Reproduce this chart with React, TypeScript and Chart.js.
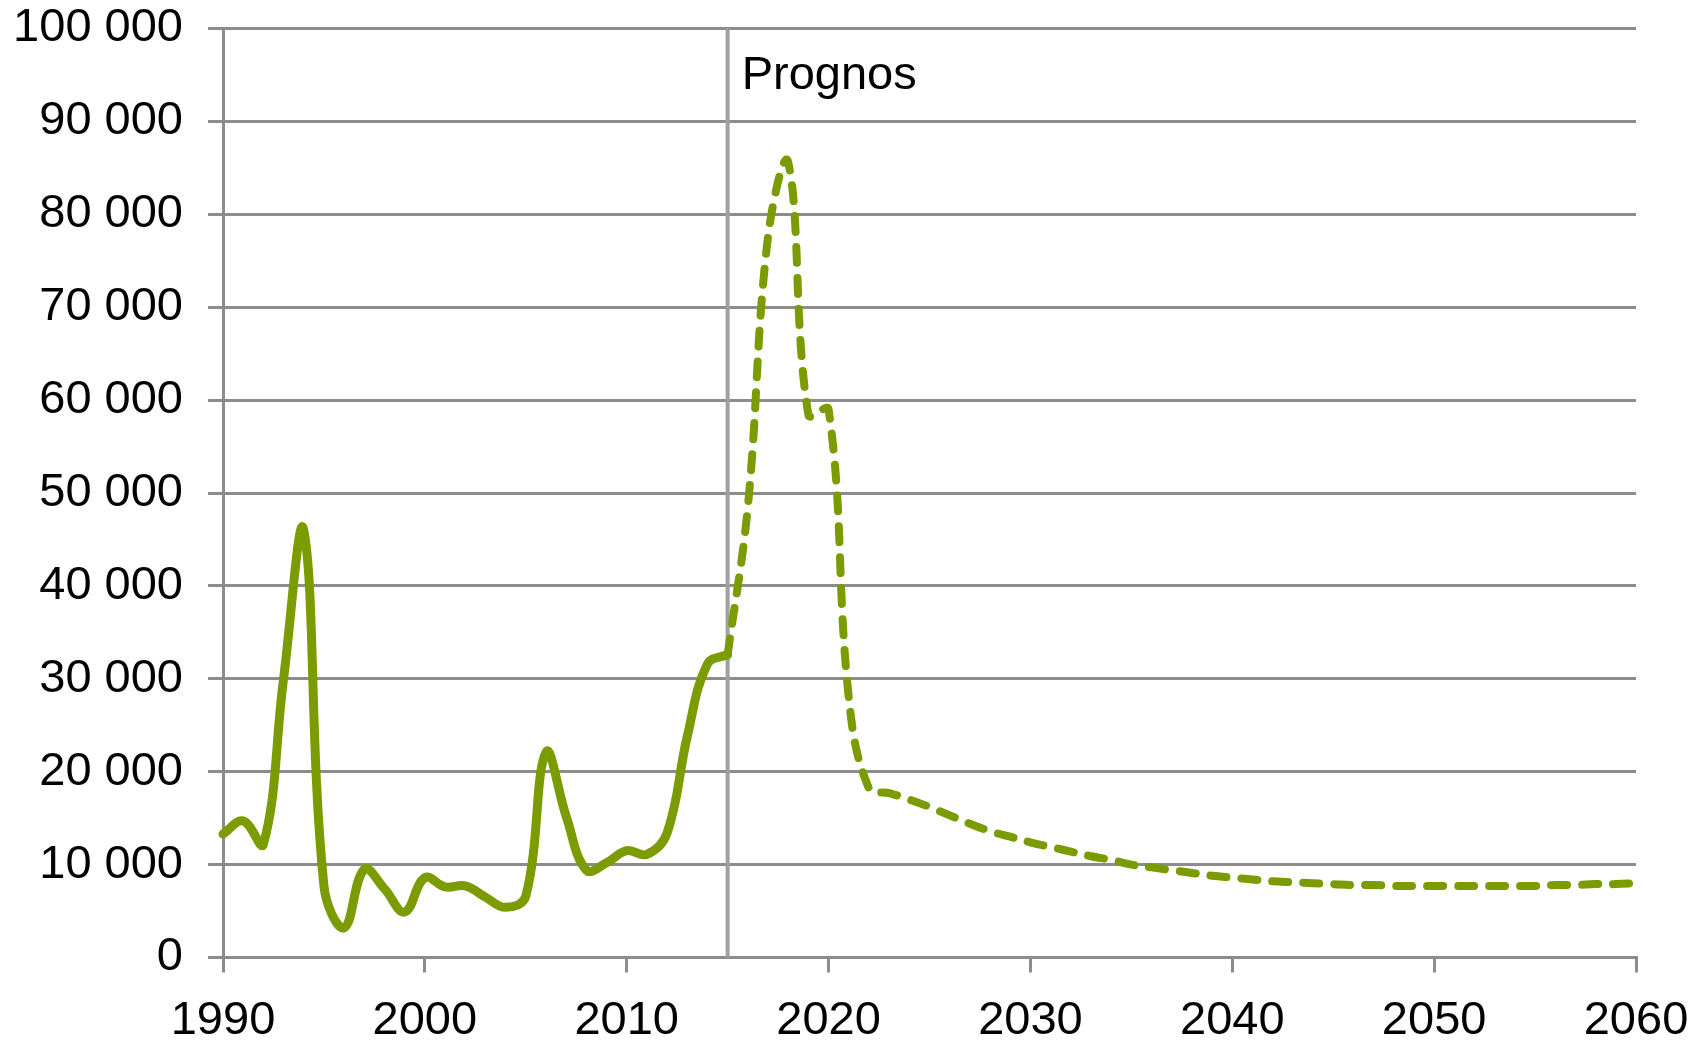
import React, { useEffect, useRef } from "react";
import { Chart, registerables } from "chart.js";

Chart.register(...registerables);

const histYears = [1990, 1991, 1992, 1993, 1994, 1995, 1996, 1997, 1998, 1999, 2000, 2001, 2002, 2003, 2004, 2005, 2006, 2007, 2008, 2009, 2010, 2011, 2012, 2013, 2014, 2015];
const histValues = [13300, 14700, 12200, 30000, 46000, 7700, 3200, 9500, 7400, 4900, 8600, 7600, 7700, 6500, 5400, 6600, 22100, 15200, 9400, 10200, 11500, 11100, 13400, 23800, 31600, 32600];

const progYears = [2015, 2016, 2017, 2018, 2019, 2020, 2021, 2022, 2023, 2024, 2025, 2026, 2027, 2028, 2029, 2030, 2031, 2032, 2033, 2034, 2035, 2036, 2037, 2038, 2039, 2040, 2041, 2042, 2043, 2044, 2045, 2046, 2047, 2048, 2049, 2050, 2051, 2052, 2053, 2054, 2055, 2056, 2057, 2058, 2059, 2060];
const progValues = [32600, 48500, 77600, 85600, 58400, 59000, 28000, 18200, 17700, 17000, 16200, 15300, 14400, 13600, 13000, 12400, 11900, 11400, 10900, 10500, 10000, 9700, 9400, 9100, 8800, 8600, 8400, 8200, 8100, 8000, 7900, 7800, 7800, 7700, 7700, 7700, 7700, 7700, 7700, 7700, 7700, 7800, 7800, 7900, 7900, 8000];

const forecastStart = 2015;
const forecastLabel = "Prognos";

const GREEN = "#7a9c00";
const GRID = "#8c8c8c";
const FONT = "'Liberation Sans', Arial, sans-serif";

const fmt = (v: number) => String(v).replace(/\B(?=(\d{3})+(?!\d))/g, " ");

export default function App() {
  const ref = useRef<HTMLCanvasElement | null>(null);

  useEffect(() => {
    document.body.style.margin = "0";
    const canvas = ref.current;
    if (!canvas) return;

    const prognosPlugin = {
      id: "prognos",
      beforeDatasetsDraw(chart: any) {
        const { ctx, chartArea, scales } = chart;
        const x = scales.x.getPixelForValue(forecastStart);
        ctx.save();
        ctx.strokeStyle = "#a0a0a0";
        ctx.lineWidth = 4;
        ctx.beginPath();
        ctx.moveTo(x, chartArea.top);
        ctx.lineTo(x, chartArea.bottom);
        ctx.stroke();
        ctx.fillStyle = "#000";
        ctx.font = `47px ${FONT}`;
        ctx.textAlign = "left";
        ctx.textBaseline = "middle";
        ctx.fillText(forecastLabel, x + 14, 76);
        ctx.restore();
      },
    };

    const chart = new Chart(canvas, {
      type: "line",
      data: {
        datasets: [
          {
            data: histYears.map((x, i) => ({ x, y: histValues[i] })),
            borderColor: GREEN,
            borderWidth: 9,
            pointRadius: 0,
            tension: 0.4,
            borderCapStyle: "round",
            borderJoinStyle: "round",
            fill: false,
            clip: false as any,
          },
          {
            data: progYears.map((x, i) => ({ x, y: progValues[i] })),
            borderColor: GREEN,
            borderWidth: 8,
            pointRadius: 0,
            tension: 0.4,
            borderDash: [16, 15],
            borderCapStyle: "round",
            borderJoinStyle: "round",
            fill: false,
            clip: false as any,
          },
        ],
      },
      options: {
        responsive: false,
        animation: false,
        devicePixelRatio: 1,
        layout: { padding: { top: 28.5, right: 56, left: 0, bottom: 0 } },
        plugins: {
          legend: { display: false },
          tooltip: { enabled: false },
          title: { display: false },
        },
        scales: {
          x: {
            type: "linear",
            min: 1990,
            max: 2060,
            afterFit(scale: any) {
              scale.height = 82.5;
              scale.paddingLeft = 0;
              scale.paddingRight = 0;
            },
            ticks: {
              stepSize: 10,
              autoSkip: false,
              maxRotation: 0,
              padding: 20,
              color: "#000",
              font: { family: FONT, size: 47 },
              callback: (v: any) => String(v),
            },
            grid: {
              display: true,
              drawOnChartArea: false,
              drawTicks: true,
              tickLength: 15,
              color: GRID,
              lineWidth: 3,
            },
            border: { display: true, color: GRID, width: 3 },
          },
          y: {
            min: 0,
            max: 100000,
            afterFit(scale: any) {
              scale.width = 223;
              scale.paddingTop = 0;
              scale.paddingBottom = 0;
            },
            ticks: {
              stepSize: 10000,
              padding: 25,
              color: "#000",
              font: { family: FONT, size: 47 },
              callback: (v: any) => fmt(Number(v)),
            },
            grid: {
              display: true,
              drawOnChartArea: true,
              drawTicks: true,
              tickLength: 15,
              color: GRID,
              lineWidth: 3,
            },
            border: { display: true, color: GRID, width: 3 },
          },
        },
      },
      plugins: [prognosPlugin],
    });

    return () => chart.destroy();
  }, []);

  return (
    <div style={{ position: "absolute", left: 0, top: 0, width: 1692, height: 1040, background: "#fff" }}>
      <canvas ref={ref} width={1692} height={1040} style={{ width: 1692, height: 1040, display: "block" }} />
    </div>
  );
}
